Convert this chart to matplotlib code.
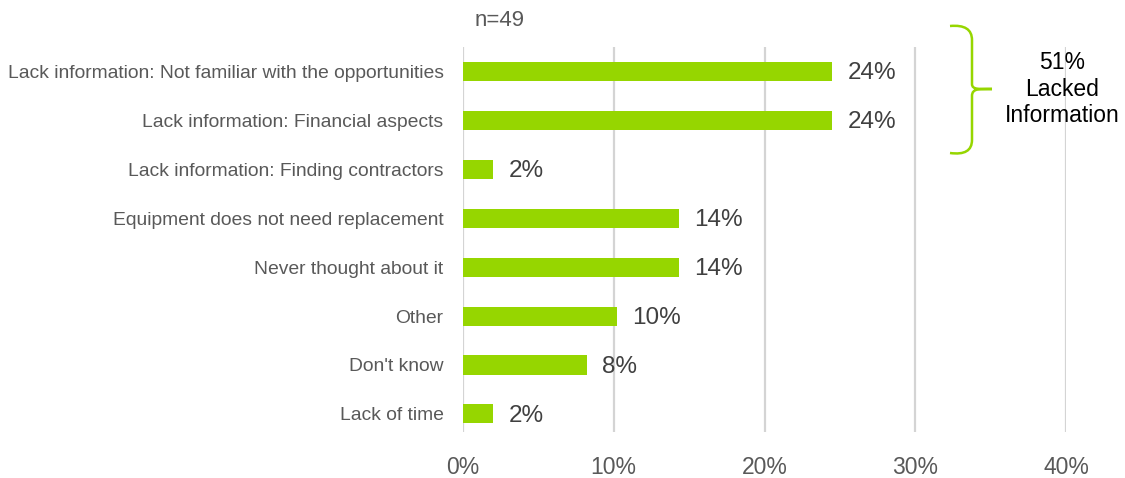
import matplotlib
matplotlib.use("Agg")
import matplotlib.pyplot as plt
from matplotlib.path import Path
from matplotlib.patches import PathPatch
from matplotlib import font_manager

categories = [
    "Lack information: Not familiar with the opportunities",
    "Lack information: Financial aspects",
    "Lack information: Finding contractors",
    "Equipment does not need replacement",
    "Never thought about it",
    "Other",
    "Don't know",
    "Lack of time",
]
values = [24.5, 24.5, 2.0, 14.3, 14.3, 10.2, 8.2, 2.0]
x_ticks = [0, 10, 20, 30, 40]
sample_note = "n=49"
bracket_note = "51%\nLacked\nInformation"

GREEN = "#96D600"
names = {f.name for f in font_manager.fontManager.ttflist}
narrow = "Liberation Sans Narrow" if "Liberation Sans Narrow" in names else "Liberation Sans"

W, H = 1125, 478
fig = plt.figure(figsize=(W / 100, H / 100), dpi=100)
ax = fig.add_axes([463 / W, 1 - 432 / H, (1066 - 463) / W, (432 - 47) / H])

ypos = list(range(len(categories)))
ax.barh(ypos, values, height=0.39, color=GREEN, zorder=3)
for y, v in zip(ypos, values):
    ax.text(v + 1.05, y + 0.04, f"{v:.0f}%", va="center", ha="left",
            fontsize=17.5, color="#404040", family="Liberation Sans")

ax.set_xlim(0, 40)
ax.set_ylim(7.37, -0.5)
ax.set_xticks(x_ticks)
ax.set_xticklabels([f"{t}%" for t in x_ticks], family=narrow,
                   fontsize=16.5, color="#595959")
ax.set_yticks(ypos)
ax.set_yticklabels(categories, family=narrow, fontsize=13.9, color="#595959")
ax.tick_params(axis="both", length=0)
ax.tick_params(axis="x", pad=17)
ax.tick_params(axis="y", pad=14)
ax.grid(axis="x", color="#D4D4D4", linewidth=1.6, zorder=0)
for s in ax.spines.values():
    s.set_visible(False)

fig.text(475 / W, 1 - 21 / H, sample_note, ha="left", va="center",
         fontsize=16, color="#595959", family="Liberation Sans")

# curly brace grouping the "Lack information" rows
def px(x, y):
    return (x / W, 1 - y / H)

verts = [px(950, 26), px(972, 24), px(972, 40),
         px(972, 84),
         px(972, 90), px(980, 89), px(992, 89),
         px(980, 89), px(972, 88), px(972, 96),
         px(972, 140),
         px(972, 156), px(950, 153)]
codes = [Path.MOVETO, Path.CURVE3, Path.CURVE3,
         Path.LINETO,
         Path.CURVE4, Path.CURVE4, Path.CURVE4,
         Path.CURVE4, Path.CURVE4, Path.CURVE4,
         Path.LINETO,
         Path.CURVE3, Path.CURVE3]
fig.patches.append(PathPatch(Path(verts, codes), fill=False, edgecolor=GREEN,
                             linewidth=1.8, transform=fig.transFigure))
fig.text(1062 / W, 1 - 89 / H, bracket_note, ha="center", va="center",
         fontsize=16.5, color="black", family="Liberation Sans", linespacing=1.2)

fig.savefig("out.png", dpi=100)
